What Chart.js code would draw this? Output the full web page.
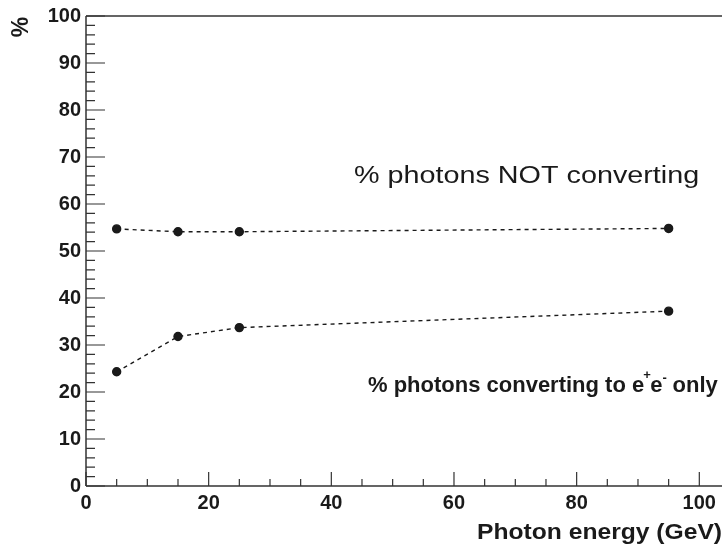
<!DOCTYPE html>
<html>
<head>
<meta charset="UTF-8">
<title>Photon conversion</title>
<script src="https://cdn.jsdelivr.net/npm/chart.js"></script>
<style>
  html, body { margin: 0; padding: 0; background: #fff; }
  #wrap { width: 722px; height: 550px; }
</style>
</head>
<body>
<div id="wrap"><canvas id="chart" width="722" height="550"></canvas></div>
<script>
// data
const energies = [5, 15, 25, 95];
const notConverting = [54.7, 54.1, 54.1, 54.8];
const eeOnly = [24.3, 31.8, 33.7, 37.2];
const xTicks = [0, 20, 40, 60, 80, 100];
const yTicks = [0, 10, 20, 30, 40, 50, 60, 70, 80, 90, 100];

const ink = '#1a1a1a';
const font = 'Liberation Sans, Arial, Helvetica, sans-serif';

function points(ys) {
    return energies.map((x, i) => ({ x: x, y: ys[i] }));
}

// text stretched sideways like the scanned original
function wideText(ctx, text, x, y, sx) {
    ctx.save();
    ctx.translate(x, y);
    ctx.scale(sx, 1);
    ctx.fillText(text, 0, 0);
    ctx.restore();
}

// axes, ticks inside the frame, labels and notes
const frame = {
    id: 'frame',
    afterDraw(chart) {
        const ctx = chart.ctx;
        const a = chart.chartArea;
        const xs = chart.scales.x, ys = chart.scales.y;
        ctx.save();
        ctx.strokeStyle = '#333';
        ctx.lineWidth = 1.5;
        ctx.beginPath();
        ctx.moveTo(a.left, a.top); ctx.lineTo(a.right, a.top);
        ctx.moveTo(a.left, a.top); ctx.lineTo(a.left, a.bottom);
        ctx.moveTo(a.left, a.bottom); ctx.lineTo(a.right, a.bottom);
        ctx.stroke();

        ctx.lineWidth = 1.2;
        ctx.beginPath();
        for (let v = 0; v <= 100; v += 2) {
            const py = ys.getPixelForValue(v);
            const len = v % 10 === 0 ? 19 : 9;
            ctx.moveTo(a.left, py); ctx.lineTo(a.left + len, py);
        }
        for (let v = 0; v <= xs.max; v += 5) {
            const px = xs.getPixelForValue(v);
            const len = v % 20 === 0 ? 14 : 7;
            ctx.moveTo(px, a.bottom); ctx.lineTo(px, a.bottom - len);
        }
        ctx.stroke();

        ctx.fillStyle = ink;
        ctx.font = 'bold 20px ' + font;
        ctx.textAlign = 'right';
        ctx.textBaseline = 'middle';
        yTicks.forEach(v => ctx.fillText(String(v), a.left - 5, ys.getPixelForValue(v)));
        ctx.textAlign = 'center';
        ctx.textBaseline = 'top';
        xTicks.forEach(v => ctx.fillText(String(v), xs.getPixelForValue(v), a.bottom + 7));

        // axis titles
        ctx.font = 'bold 22px ' + font;
        ctx.textAlign = 'left';
        ctx.textBaseline = 'alphabetic';
        wideText(ctx, 'Photon energy (GeV)', 477, 539, 1.12);
        ctx.save();
        ctx.translate(28, 27);
        ctx.rotate(-Math.PI / 2);
        ctx.font = 'bold 23px ' + font;
        ctx.textAlign = 'center';
        ctx.fillText('%', 0, 0);
        ctx.restore();

        // notes
        ctx.textAlign = 'left';
        ctx.font = '23px ' + font;
        wideText(ctx, '% photons NOT converting', 354, 183, 1.25);

        ctx.font = 'bold 22px ' + font;
        let x = 368;
        const base = 392;
        const t1 = '% photons converting to e';
        ctx.fillText(t1, x, base);
        x += ctx.measureText(t1).width;
        ctx.font = 'bold 13px ' + font;
        ctx.fillText('+', x - 1, base - 13);
        ctx.font = 'bold 22px ' + font;
        ctx.fillText('e', x + 6, base);
        x += 6 + ctx.measureText('e').width;
        ctx.font = 'bold 13px ' + font;
        ctx.fillText('-', x, base - 10);
        ctx.font = 'bold 22px ' + font;
        ctx.fillText(' only', x + 4, base);
        ctx.restore();
    }
};

const dataset = (label, ys) => ({
    label: label,
    data: points(ys),
    showLine: true,
    borderColor: ink,
    borderWidth: 1.4,
    borderDash: [4, 4],
    pointRadius: 4,
    pointBackgroundColor: ink,
    pointBorderColor: ink,
    tension: 0
});

new Chart(document.getElementById('chart'), {
    type: 'scatter',
    data: {
        datasets: [
            dataset('% photons NOT converting', notConverting),
            dataset('% photons converting to e+e- only', eeOnly)
        ]
    },
    options: {
        responsive: false,
        animation: false,
        layout: { autoPadding: false, padding: { left: 86, top: 16, right: 0, bottom: 64 } },
        scales: {
            x: { type: 'linear', min: 0, max: 103.7, display: false },
            y: { type: 'linear', min: 0, max: 100, display: false }
        },
        plugins: {
            legend: { display: false },
            tooltip: { enabled: false }
        }
    },
    plugins: [frame]
});
</script>
</body>
</html>
